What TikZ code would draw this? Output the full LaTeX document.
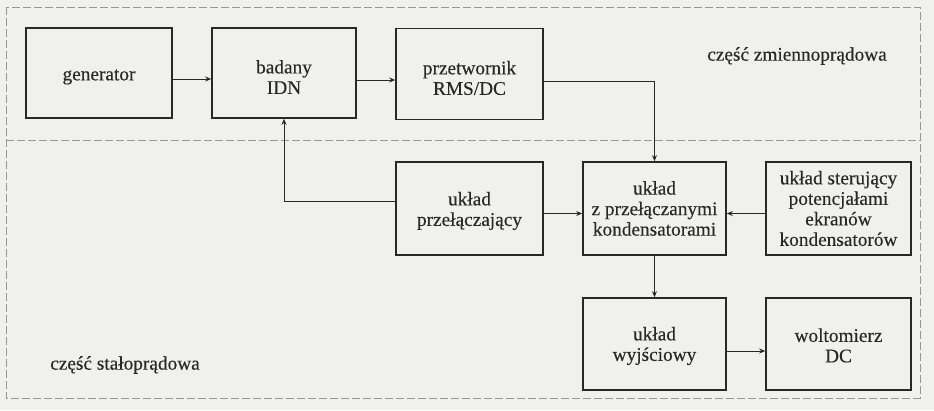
\documentclass[tikz,border=0pt]{standalone}
\usepackage{fontspec}
\setmainfont{Liberation Serif}[FakeBold=0.2]
\usetikzlibrary{arrows.meta}
\definecolor{bgc}{RGB}{240,240,236}
\definecolor{inkc}{RGB}{40,40,40}
\definecolor{framec}{RGB}{150,150,150}
\begin{document}
\begin{tikzpicture}[x=1pt,y=-1pt,
  blk/.style={draw=inkc,line width=1.6pt,rectangle,inner sep=0pt},
  txt/.style={align=center,inner sep=0pt,font=\fontsize{19.3}{20.5}\selectfont,text=inkc},
  conn/.style={draw=inkc,line width=1pt,-{Stealth[length=6pt,width=5pt]}},
  frame/.style={draw=framec,line width=0.8pt,dash pattern=on 8pt off 3pt},
  lbl/.style={font=\fontsize{19.3}{20.5}\selectfont,text=inkc,inner sep=0pt}]
\fill[bgc] (0,0) rectangle (934,410);
\useasboundingbox (0,0) rectangle (934,410);
% frame
\draw[frame] (6,7) rectangle (920,398);
\draw[frame] (6,140) -- (920,140);
% blocks
\node[blk,minimum width=146pt,minimum height=90pt] (gen) at (99,73) {};
\node[blk,minimum width=144pt,minimum height=90pt] (idn) at (284,73) {};
\node[blk,minimum width=147pt,minimum height=91pt] (rms) at (469.5,74) {};
\node[blk,minimum width=147pt,minimum height=93pt] (prz) at (469.5,208.5) {};
\node[blk,minimum width=143pt,minimum height=93pt] (kond) at (654.5,208.5) {};
\node[blk,minimum width=145pt,minimum height=93pt] (ster) at (838.5,208.5) {};
\node[blk,minimum width=143pt,minimum height=92pt] (wyj) at (654.5,344) {};
\node[blk,minimum width=145pt,minimum height=92pt] (wolt) at (838.5,344) {};
% block texts
\node[txt] (gent) at ([yshift=-4pt]gen.center) {generator};
\node[txt] (idnt) at ([yshift=-4pt]idn.center) {badany\\IDN};
\node[txt] (rmst) at ([yshift=-4pt]rms.center) {przetwornik\\RMS/DC};
\node[txt] (przt) at ([yshift=-2.5pt]prz.center) {układ\\przełączający};
\node[txt] (kondt) at (kond.center) {układ\\z przełączanymi\\kondensatorami};
\node[txt] (stert) at (ster.center) {układ sterujący\\potencjałami\\ekranów\\kondensatorów};
\node[txt] (wyjt) at ([yshift=-2pt]wyj.center) {układ\\wyjściowy};
\node[txt] (woltt) at ([yshift=-1.5pt]wolt.center) {woltomierz\\DC};
% labels
\node[lbl] (zm) at (797,56) {część zmiennoprądowa};
\node[lbl] (st) at (125,365) {część stałoprądowa};
% connectors
\draw[conn] ([yshift=-6pt]gen.east) -- ([yshift=-6pt]idn.west);
\draw[conn] ([yshift=-7pt]idn.east) -- ([yshift=-6pt]rms.west);
\draw[conn] ([yshift=-7pt]rms.east) -| (kond.north);
\draw[conn] ([yshift=7pt]prz.west) -| (idn.south);
\draw[conn] ([yshift=-5pt]prz.east) -- ([yshift=-5pt]kond.west);
\draw[conn] ([yshift=-5pt]ster.west) -- ([yshift=-5pt]kond.east);
\draw[conn] (kond.south) -- (wyj.north);
\draw[conn] ([yshift=-7pt]wyj.east) -- ([yshift=-7pt]wolt.west);
\end{tikzpicture}
\end{document}
